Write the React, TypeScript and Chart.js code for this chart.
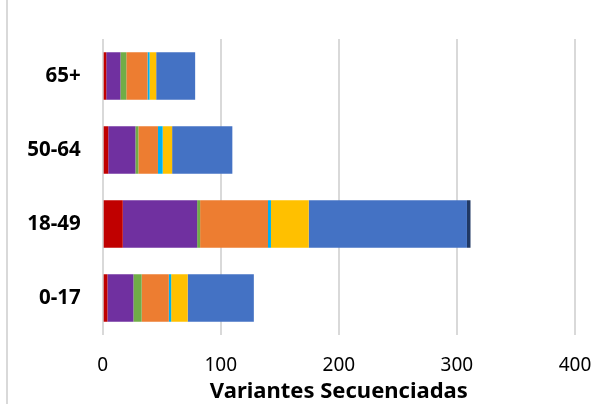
import React, { useEffect, useRef } from "react";
import { Chart, registerables } from "chart.js";

Chart.register(...registerables);

const categories = ["65+", "50-64", "18-49", "0-17"];
const xTicks = [0, 100, 200, 300, 400];
const axisTitle = "Variantes Secuenciadas";

const seriesRed = [3, 4.7, 17, 4];
const seriesPurple = [12, 23, 63, 22];
const seriesGreen = [5, 2.5, 2.5, 7];
const seriesOrange = [18, 16.6, 57.5, 23];
const seriesCyan = [1.7, 4, 2.5, 2];
const seriesYellow = [5.6, 8, 32, 14];
const seriesBlue = [33, 51, 134, 56];
const seriesNavy = [0, 0, 3, 0];

const seriesList = [
  { name: "Serie 1", data: seriesRed, color: "#C00000" },
  { name: "Serie 2", data: seriesPurple, color: "#7030A0" },
  { name: "Serie 3", data: seriesGreen, color: "#70AD47" },
  { name: "Serie 4", data: seriesOrange, color: "#ED7D31" },
  { name: "Serie 5", data: seriesCyan, color: "#00B0F0" },
  { name: "Serie 6", data: seriesYellow, color: "#FFC000" },
  { name: "Serie 7", data: seriesBlue, color: "#4472C4" },
  { name: "Serie 8", data: seriesNavy, color: "#203864" },
];

export default function App() {
  const ref = useRef<HTMLCanvasElement | null>(null);

  useEffect(() => {
    if (!ref.current) return;
    const chart = new Chart(ref.current, {
      type: "bar",
      data: {
        labels: categories,
        datasets: seriesList.map((s) => ({
          label: s.name,
          data: s.data,
          backgroundColor: s.color,
          borderWidth: 0,
          categoryPercentage: 1,
          barPercentage: 0.64,
        })),
      },
      options: {
        indexAxis: "y",
        animation: false,
        responsive: false,
        maintainAspectRatio: false,
        layout: { padding: { left: 0, top: 39, right: 29, bottom: 0 } },
        plugins: { legend: { display: false }, tooltip: { enabled: false } },
        scales: {
          x: {
            stacked: true,
            min: 0,
            max: 400,
            afterBuildTicks: (scale: any) => {
              scale.ticks = xTicks.map((v) => ({ value: v }));
            },
            afterFit: (scale: any) => {
              scale.height = 69;
            },
            grid: { color: "#d9d9d9", lineWidth: 2, drawTicks: false },
            border: { display: false },
            ticks: {
              padding: 0,
              color: "#000",
              font: { family: "'Noto Sans', sans-serif", size: 19, lineHeight: 3.26 },
            },
            title: {
              display: true,
              text: axisTitle,
              color: "#000",
              padding: { top: 0, bottom: 0 },
              font: { family: "'Noto Sans', sans-serif", size: 22, weight: "bold", lineHeight: 1.1 },
            },
          },
          y: {
            stacked: true,
            afterFit: (scale: any) => {
              scale.width = 102.7;
            },
            grid: { display: false, drawTicks: false },
            border: { display: false },
            ticks: {
              padding: 22,
              color: "#000",
              font: { family: "'Noto Sans', sans-serif", size: 20.5, weight: "bold" },
            },
          },
        },
      },
    });
    return () => chart.destroy();
  }, []);

  return (
    <div style={{ position: "fixed", left: 0, top: 0, width: 604, height: 404, background: "#fff" }}>
      <canvas ref={ref} width={604} height={404} style={{ width: 604, height: 404, display: "block" }} />
      <div
        style={{
          position: "absolute",
          left: 6,
          top: 0,
          width: 2,
          height: 404,
          background: "#d9d9d9",
        }}
      />
    </div>
  );
}
